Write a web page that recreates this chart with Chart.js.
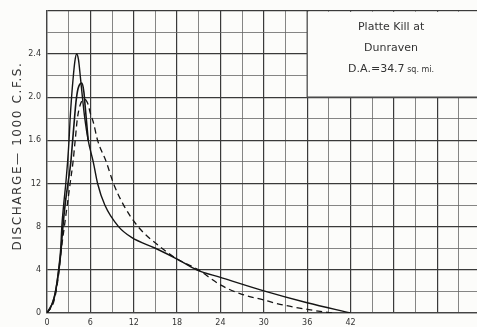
<!DOCTYPE html>
<html>
<head>
<meta charset="utf-8">
<script src="https://cdn.jsdelivr.net/npm/chart.js@4"></script>
<style>
  html, body { margin: 0; padding: 0; background: #fcfcfa; }
  #wrap { width: 477px; height: 327px; }
</style>
</head>
<body>
<div id="wrap"><canvas id="hydro" width="477" height="327"></canvas></div>
<script>
// hours after start / discharge in 1000 cfs
const hoursA = [0, 0.5, 1, 1.3, 1.6, 1.9, 2.05, 2.3, 2.6, 2.85, 3.05, 3.2, 3.4, 3.65, 3.85, 4.1, 4.35, 4.6, 4.9, 5.2, 5.7, 6.4, 7.0, 8.0, 9.9, 11.7, 15, 18, 20.7, 24, 30, 36, 42];
const flowA  = [0, 0.05, 0.15, 0.25, 0.4, 0.6, 0.8, 1.0, 1.2, 1.4, 1.6, 1.8, 2.0, 2.2, 2.33, 2.4, 2.35, 2.2, 2.0, 1.82, 1.6, 1.4, 1.2, 1.0, 0.8, 0.7, 0.6, 0.5, 0.4, 0.33, 0.205, 0.095, 0];

const hoursB = [0, 1, 1.5, 1.9, 2.2, 2.5, 2.9, 3.3, 3.55, 3.8, 4.0, 4.3, 4.8, 5.1, 5.3, 5.5, 5.7];
const flowB  = [0, 0.14, 0.33, 0.55, 0.8, 1.0, 1.2, 1.4, 1.6, 1.8, 1.95, 2.08, 2.13, 2.05, 1.9, 1.75, 1.6];

const hoursC = [0, 1, 1.6, 2.0, 2.4, 2.8, 3.2, 3.6, 3.9, 4.2, 4.6, 5.2, 5.7, 6.0, 6.4, 7.0, 8.2, 9.2, 10.6, 12.6, 15.9, 18, 20.7, 24, 26.7, 30, 32.7, 36, 38.3, 39.5];
const flowC  = [0, 0.12, 0.35, 0.6, 0.8, 1.0, 1.2, 1.4, 1.6, 1.8, 1.93, 1.98, 1.93, 1.85, 1.77, 1.6, 1.4, 1.2, 1.0, 0.8, 0.6, 0.5, 0.41, 0.26, 0.18, 0.12, 0.074, 0.034, 0.01, 0];

const xTickLabels = ['0', '6', '12', '18', '24', '30', '36', '42'];
const yTickLabels = ['0', '4', '8', '12', '1.6', '2.0', '2.4'];
const boxLines = ['Platte Kill at', 'Dunraven', 'D.A.=34.7'];

const toPoints = (xs, ys) => xs.map((x, i) => ({ x: x, y: ys[i] }));

const ink = '#151515';
const gridInk = '#444';

// white label box in the upper right, over the grid
const boxPlugin = {
  id: 'labelBox',
  beforeDatasetsDraw(chart) {
    const { ctx, scales: { x, y } } = chart;
    const left = x.getPixelForValue(36);
    const bottom = y.getPixelForValue(2.0);
    const top = y.getPixelForValue(2.8);
    const right = chart.width;
    ctx.save();
    ctx.fillStyle = '#fcfcfa';
    ctx.fillRect(left, top + 1, right - left, bottom - top - 1);
    ctx.strokeStyle = gridInk;
    ctx.lineWidth = 1.2;
    ctx.beginPath();
    ctx.moveTo(left, top);
    ctx.lineTo(left, bottom);
    ctx.lineTo(right, bottom);
    ctx.stroke();

    const cx = (left + right) / 2 - 1;
    ctx.fillStyle = '#333';
    ctx.textAlign = 'center';
    ctx.textBaseline = 'middle';
    ctx.font = '11px "DejaVu Sans", sans-serif';
    ctx.fillText(boxLines[0], cx, top + 16);
    ctx.fillText(boxLines[1], cx, top + 37);
    // last line: bigger "D.A.=34.7" then small "sq. mi."
    ctx.textAlign = 'left';
    const big = boxLines[2];
    const small = ' sq. mi.';
    ctx.font = '11px "DejaVu Sans", sans-serif';
    const wBig = ctx.measureText(big).width;
    ctx.font = '8px "DejaVu Sans", sans-serif';
    const wSmall = ctx.measureText(small).width;
    const sx = cx - (wBig + wSmall) / 2;
    ctx.font = '11px "DejaVu Sans", sans-serif';
    ctx.fillText(big, sx, top + 58);
    ctx.font = '8px "DejaVu Sans", sans-serif';
    ctx.fillText(small, sx + wBig, top + 59);
    ctx.restore();
  }
};

// rotated axis title with spaced letters
const yTitlePlugin = {
  id: 'yTitle',
  afterDraw(chart) {
    const { ctx } = chart;
    ctx.save();
    ctx.translate(18, 156);
    ctx.rotate(-Math.PI / 2);
    ctx.fillStyle = '#333';
    ctx.font = '12px "DejaVu Sans", sans-serif';
    ctx.letterSpacing = '1.6px';
    ctx.textAlign = 'center';
    ctx.textBaseline = 'middle';
    ctx.fillText('DISCHARGE\u2014 1000 C.F.S.', 0, 0);
    ctx.restore();
  }
};

new Chart(document.getElementById('hydro'), {
  type: 'scatter',
  data: {
    datasets: [
      {
        label: 'A',
        data: toPoints(hoursA, flowA),
        showLine: true,
        borderColor: ink,
        borderWidth: 1.4,
        pointRadius: 0,
        cubicInterpolationMode: 'monotone'
      },
      {
        label: 'B',
        data: toPoints(hoursB, flowB),
        showLine: true,
        borderColor: ink,
        borderWidth: 1.6,
        pointRadius: 0,
        cubicInterpolationMode: 'monotone'
      },
      {
        label: 'C',
        data: toPoints(hoursC, flowC),
        showLine: true,
        borderColor: ink,
        borderWidth: 1.3,
        borderDash: [6, 4],
        pointRadius: 0,
        cubicInterpolationMode: 'monotone'
      }
    ]
  },
  options: {
    responsive: false,
    animation: false,
    layout: { padding: { top: 8, right: 0, left: 0, bottom: 0 } },
    plugins: {
      legend: { display: false },
      tooltip: { enabled: false }
    },
    scales: {
      x: {
        type: 'linear',
        min: 0,
        max: 59.5,
        afterBuildTicks(scale) {
          const t = [];
          for (let v = 0; v <= 57; v += 3) t.push({ value: v });
          scale.ticks = t;
        },
        afterFit(scale) { scale.height = 14; },
        border: { display: true, color: gridInk, width: 1.3 },
        grid: {
          drawTicks: false,
          color: (c) => (c.tick && c.tick.value % 6 === 0 ? '#3a3a3a' : '#666'),
          lineWidth: (c) => (c.tick && c.tick.value % 6 === 0 ? 1.2 : 0.8)
        },
        ticks: {
          autoSkip: false,
          maxRotation: 0,
          padding: 5,
          color: '#333',
          font: { size: 8, family: '"DejaVu Sans", sans-serif' },
          callback: (v) => (v % 6 === 0 && v / 6 < xTickLabels.length ? xTickLabels[v / 6] : '')
        }
      },
      y: {
        min: 0,
        max: 2.8,
        afterBuildTicks(scale) {
          const t = [];
          for (let i = 0; i <= 14; i++) t.push({ value: Math.round(i * 2) / 10 });
          scale.ticks = t;
        },
        afterFit(scale) { scale.width = 47; },
        border: { display: true, color: gridInk, width: 1.3 },
        grid: {
          drawTicks: false,
          color: (c) => (c.tick && Math.round(c.tick.value * 10) % 4 === 0 ? '#3a3a3a' : '#666'),
          lineWidth: (c) => (c.tick && Math.round(c.tick.value * 10) % 4 === 0 ? 1.2 : 0.8)
        },
        ticks: {
          autoSkip: false,
          padding: 6,
          color: '#333',
          font: { size: 8, family: '"DejaVu Sans", sans-serif' },
          callback: (v) => {
            const k = Math.round(v * 10);
            return k % 4 === 0 && k / 4 < yTickLabels.length ? yTickLabels[k / 4] : '';
          }
        }
      }
    }
  },
  plugins: [boxPlugin, yTitlePlugin]
});
</script>
</body>
</html>
